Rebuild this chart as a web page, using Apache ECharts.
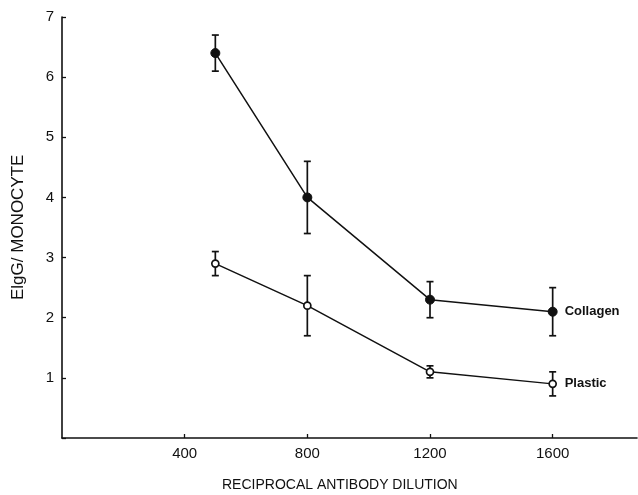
<!DOCTYPE html>
<html>
<head>
<meta charset="utf-8">
<script src="https://cdn.jsdelivr.net/npm/echarts@6/dist/echarts.min.js"></script>
<style>
html,body{margin:0;padding:0;background:#fff;}
#c{width:638px;height:495px;}
</style>
</head>
<body>
<div id="c"></div>
<script>
const dilutions = [500, 800, 1200, 1600];
const collagen = [6.4, 4.0, 2.3, 2.1];
const collagenErr = [0.3, 0.6, 0.3, 0.4];
const plastic = [2.9, 2.2, 1.1, 0.9];
const plasticErr = [0.2, 0.5, 0.1, 0.2];
const xTicks = [400, 800, 1200, 1600];
const yTicks = [1, 2, 3, 4, 5, 6, 7];

const FONT = '"Liberation Sans", Arial, sans-serif';

function errData(vals, errs) {
  return dilutions.map((x, i) => [x, vals[i] - errs[i], vals[i] + errs[i]]);
}
function errRender(params, api) {
  const x = api.value(0);
  const lo = api.coord([x, api.value(1)]);
  const hi = api.coord([x, api.value(2)]);
  const w = 3.5;
  const style = {stroke: '#111', lineWidth: 1.7};
  return {
    type: 'group',
    children: [
      {type: 'line', shape: {x1: lo[0], y1: lo[1], x2: hi[0], y2: hi[1]}, style},
      {type: 'line', shape: {x1: lo[0] - w, y1: lo[1], x2: lo[0] + w, y2: lo[1]}, style},
      {type: 'line', shape: {x1: hi[0] - w, y1: hi[1], x2: hi[0] + w, y2: hi[1]}, style}
    ]
  };
}

const chart = echarts.init(document.getElementById('c'));
chart.setOption({
  animation: false,
  backgroundColor: '#fff',
  grid: {left: 62, right: 1, top: 17, bottom: 57},
  xAxis: {
    type: 'value', min: 0, max: 1875,
    axisLine: {show: true, lineStyle: {color: '#111', width: 1.6}},
    axisTick: {show: true, inside: true, length: 4, customValues: xTicks, lineStyle: {color: '#111', width: 1.3}},
    axisLabel: {customValues: xTicks, formatter: v => String(v), color: '#111', fontSize: 15, fontFamily: FONT, margin: 8},
    splitLine: {show: false}
  },
  yAxis: {
    type: 'value', min: 0, max: 7, interval: 1,
    axisLine: {show: true, lineStyle: {color: '#111', width: 1.6}},
    axisTick: {show: true, inside: true, length: 4, lineStyle: {color: '#111', width: 1.3}},
    axisLabel: {customValues: yTicks, color: '#111', fontSize: 15, fontFamily: FONT, margin: 8},
    splitLine: {show: false}
  },
  graphic: [
    {type: 'text', left: 222, top: 478, style: {text: 'RECIPROCAL ANTIBODY DILUTION', fill: '#111', font: '14px ' + FONT}},
    {type: 'text', x: 10, y: 300, rotation: Math.PI / 2, style: {text: 'ElgG/ MONOCYTE', fill: '#111', font: '17px ' + FONT}}
  ],
  series: [
    {type: 'custom', name: 'errC', renderItem: errRender, data: errData(collagen, collagenErr), z: 2},
    {type: 'custom', name: 'errP', renderItem: errRender, data: errData(plastic, plasticErr), z: 2},
    {
      type: 'line', name: 'Collagen', data: dilutions.map((x, i) => [x, collagen[i]]),
      symbol: 'circle', symbolSize: 9, z: 3,
      lineStyle: {color: '#111', width: 1.5},
      itemStyle: {color: '#111', borderColor: '#111', borderWidth: 1},
      endLabel: {show: true, formatter: 'Collagen', color: '#111', fontSize: 13, fontWeight: 'bold', fontFamily: FONT, distance: 12}
    },
    {
      type: 'line', name: 'Plastic', data: dilutions.map((x, i) => [x, plastic[i]]),
      symbol: 'circle', symbolSize: 7, z: 3,
      lineStyle: {color: '#111', width: 1.5},
      itemStyle: {color: '#fff', borderColor: '#111', borderWidth: 1.7},
      endLabel: {show: true, formatter: 'Plastic', color: '#111', fontSize: 13, fontWeight: 'bold', fontFamily: FONT, distance: 12}
    }
  ]
});
</script>
</body>
</html>
